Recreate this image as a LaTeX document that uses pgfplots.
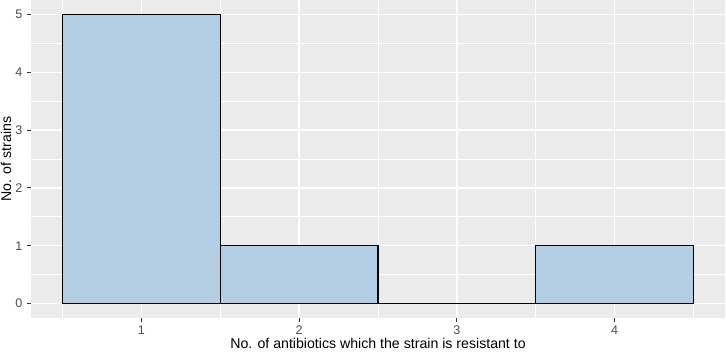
\documentclass[border=0pt]{standalone}
\usepackage{pgfplots}
\pgfplotsset{compat=1.18}
\usepackage{fontspec}
\setmainfont{Liberation Sans}
\definecolor{panel}{HTML}{EBEBEB}
\definecolor{barfill}{HTML}{B3CDE3}
\definecolor{ticklab}{HTML}{4D4D4D}
\definecolor{tickcol}{HTML}{333333}
\begin{document}
\begin{tikzpicture}
\begin{axis}[name=ax,
 scale only axis, width=694bp, height=318bp,
 xmin=0.3, xmax=4.7, ymin=-0.25, ymax=5.25,
 axis background/.style={fill=panel},
 axis line style={draw=none},
 xtick={1,2,3,4}, ytick={0,1,2,3,4,5},
 xticklabels={1,2,3,4}, yticklabels={0,1,2,3,4,5},
 minor xtick={0.5,1.5,2.5,3.5,4.5}, minor ytick={0.5,1.5,2.5,3.5,4.5},
 grid=both,
 major grid style={white, line width=1.4bp},
 minor grid style={white, line width=0.7bp},
 tick align=outside, major tick length=3.7bp, minor tick length=0pt,
 xtick pos=bottom, ytick pos=left,
 tick style={tickcol, line width=1bp},
 ticklabel style={font=\fontsize{12.6}{12.6}\selectfont, text=ticklab},
 xticklabel style={anchor=base, yshift=-13bp},
 yticklabel style={anchor=east, xshift=-1.5bp},
 xlabel={No. of antibiotics which the strain is resistant to},
 ylabel={No. of strains},
 label style={font=\fontsize{14.2}{14.2}\selectfont},
 xlabel style={at={(axis description cs:0.5,-0.097)}, anchor=base},
 ylabel style={at={(axis description cs:-0.0288,0.5)}, anchor=base},
]
\addplot[ybar interval, fill=barfill, draw=black, line width=1.2bp] coordinates {(0.5,5) (1.5,1) (2.5,0) (3.5,1) (4.5,1)};
\end{axis}
\pgfresetboundingbox
\path ([shift={(-31bp,-36bp)}]ax.south west) rectangle ([shift={(1bp,0bp)}]ax.north east);
\end{tikzpicture}
\end{document}
